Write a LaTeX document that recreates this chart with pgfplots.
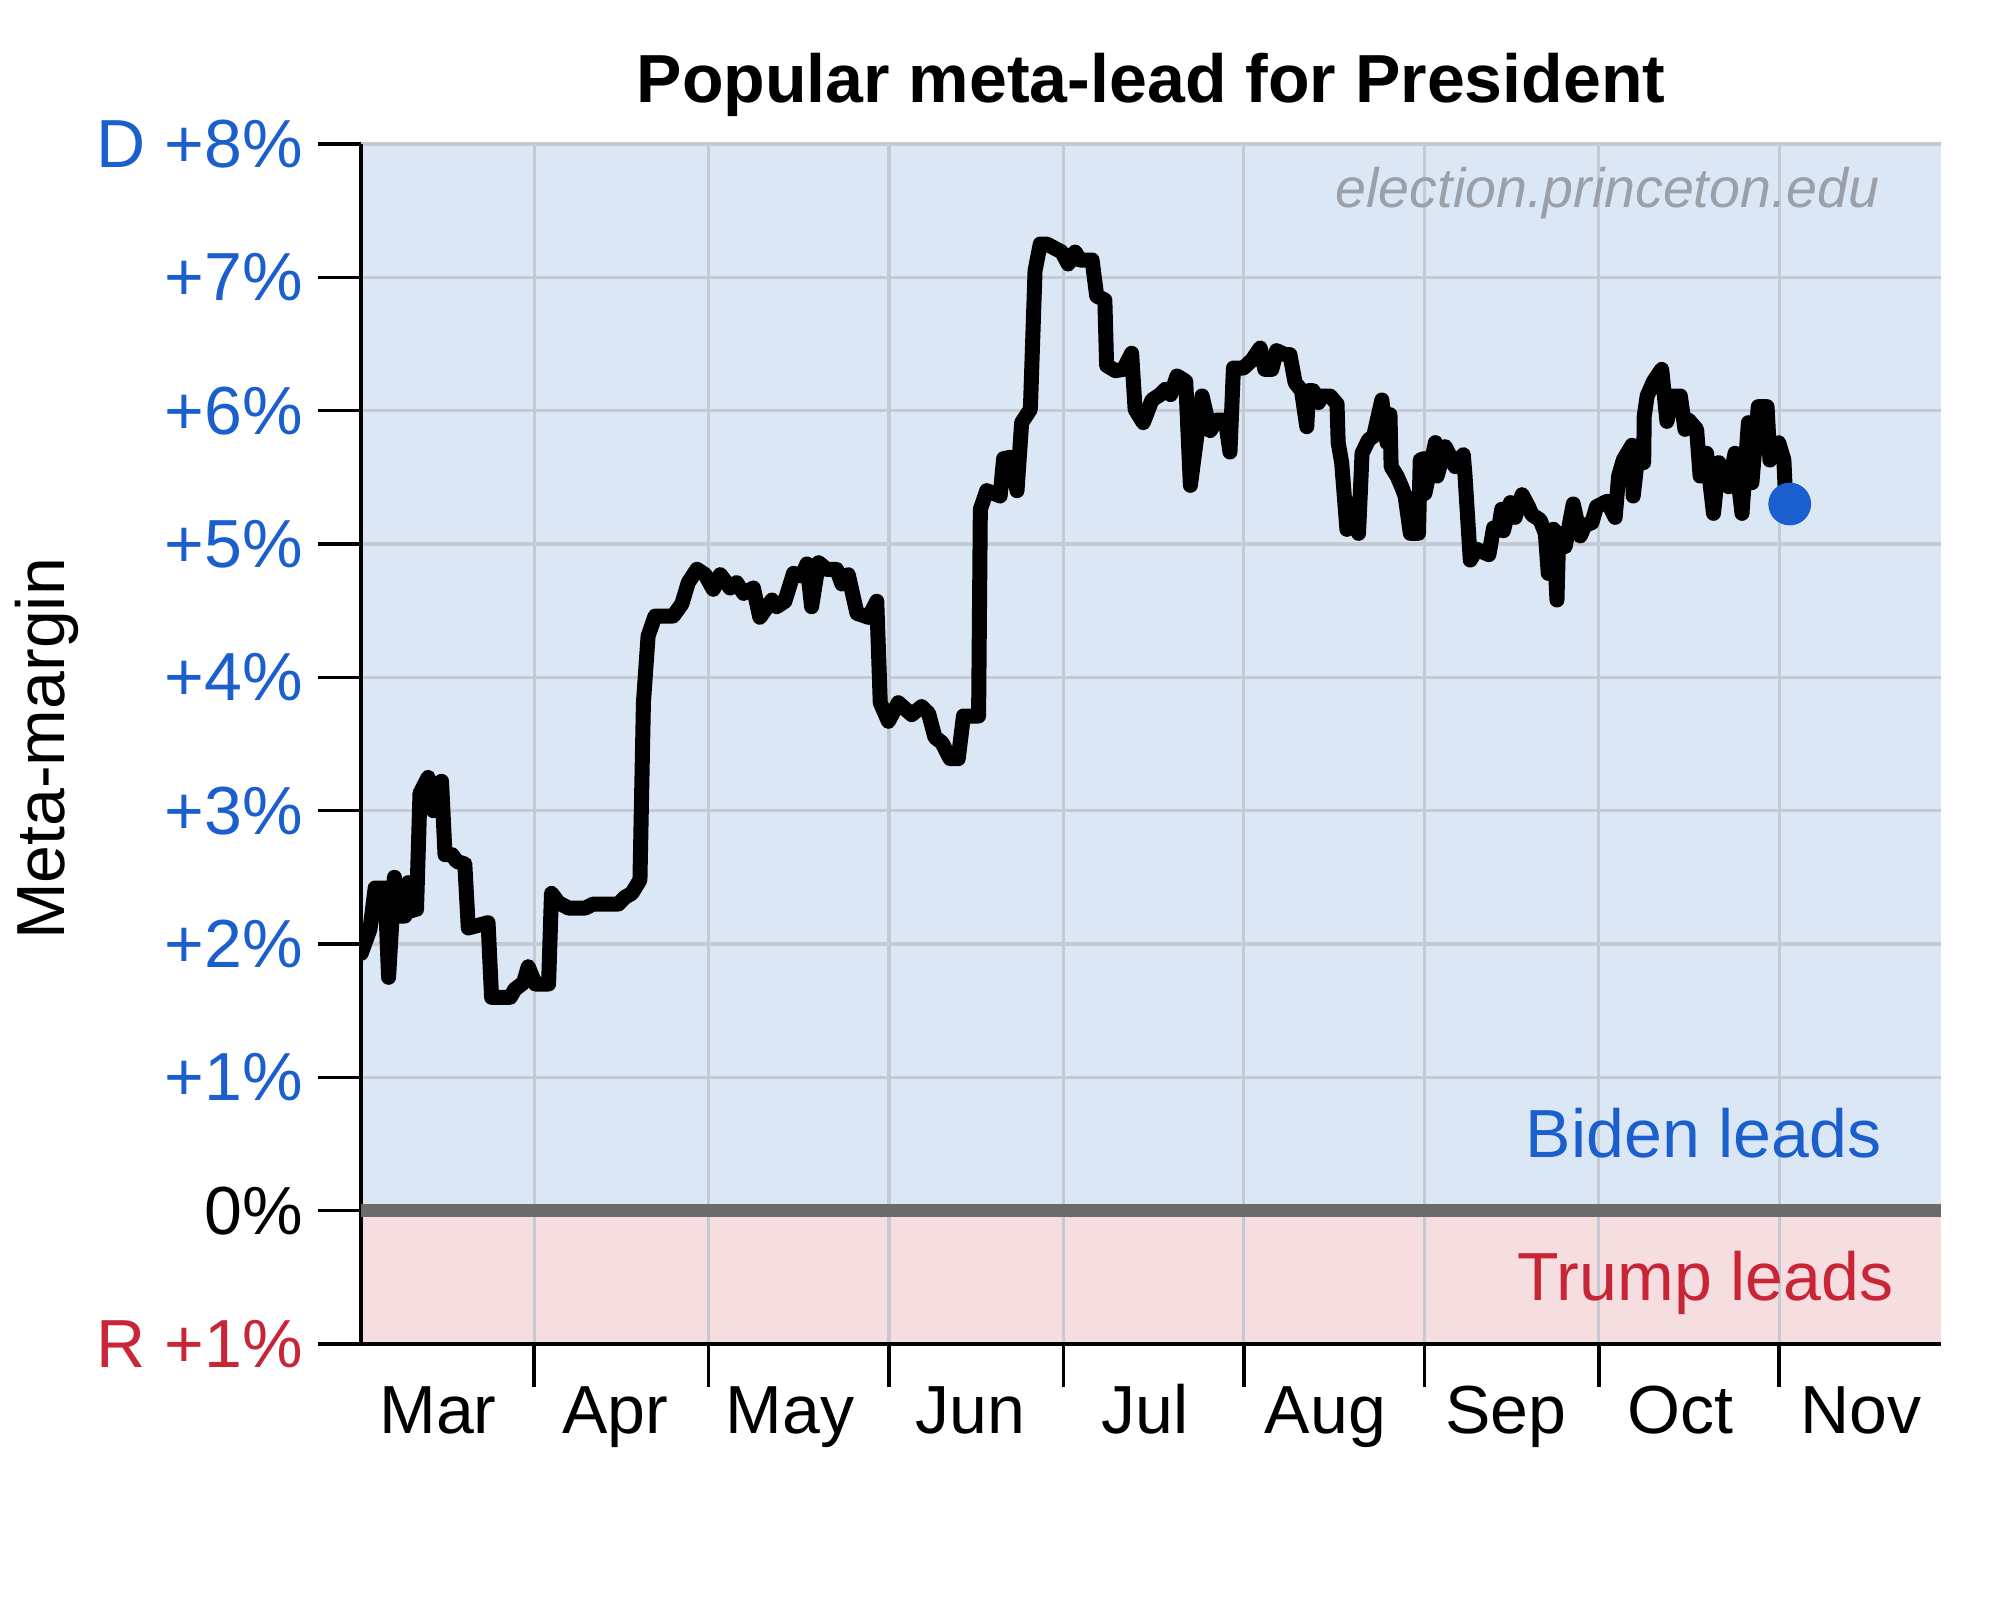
\documentclass[border=0pt]{standalone}
\usepackage{fontspec}
\setmainfont{Liberation Sans}
\usepackage{pgfplots}
\pgfplotsset{compat=1.18}
\definecolor{dblue}{HTML}{1A5FCD}
\definecolor{rred}{HTML}{C82537}
\definecolor{bgblue}{HTML}{DCE7F6}
\definecolor{bgred}{HTML}{F5DDE0}
\definecolor{zline}{HTML}{6B6B6B}
\definecolor{gridc}{HTML}{C5CAD2}
\definecolor{wm}{HTML}{9BA0A8}
\newcommand{\fs}{\fontsize{24.5}{29}\selectfont}
\begin{document}
\begin{tikzpicture}
\begin{axis}[
  name=ax, set layers,
  scale only axis, width=568.8pt, height=432pt,
  xmin=62.26, xmax=333.8, ymin=-1, ymax=8,
  axis x line*=bottom, axis y line*=left,
  axis line style={-, line width=1.3pt, black},
  tick align=outside, major tick length=15.5pt,
  tick style={line width=1.3pt, black},
  xtick={92,122,153,183,214,245,275,306}, xticklabels={},
  extra x ticks={75.5,106,136,167,197,228,259,289,320},
  extra x tick labels={Mar,Apr,May,Jun,Jul,Aug,Sep,Oct,Nov},
  extra x tick style={grid=none, major tick length=0pt},
  ytick={-1,0,1,2,3,4,5,6,7,8},
  yticklabels={{\color{rred}R +1\%},0\%,{\color{dblue}+1\%},{\color{dblue}+2\%},{\color{dblue}+3\%},{\color{dblue}+4\%},{\color{dblue}+5\%},{\color{dblue}+6\%},{\color{dblue}+7\%},{\color{dblue}D +8\%}},
  grid=major, grid style={gridc, line width=1.1pt},
  ticklabel style={font=\fs, inner sep=0pt},
  yticklabel style={xshift=-5.2pt},
  xticklabel style={yshift=-14.4pt, text height=17.6pt, text depth=5.2pt},
]
\addplot[on layer=axis background, fill=bgblue, draw=none] coordinates {(62.26,0) (333.8,0) (333.8,8) (62.26,8)} -- cycle;
\addplot[on layer=axis background, fill=bgred, draw=none] coordinates {(62.26,-1) (333.8,-1) (333.8,0) (62.26,0)} -- cycle;
\addplot[zline, line width=4.9pt] coordinates {(62.26,0) (333.8,0)};
\addplot[black, line width=5.4pt, line join=round, line cap=round] table {
62.3 1.93
63.8 2.11
64.7 2.42
66.4 2.42
67.0 1.75
68.0 2.50
68.6 2.21
69.8 2.21
70.4 2.46
71.0 2.25
71.4 2.45
71.8 2.26
72.4 3.13
73.8 3.25
74.7 3.00
76.1 3.22
76.7 2.67
77.9 2.67
78.7 2.62
80.1 2.60
80.7 2.12
84.1 2.16
84.7 1.60
87.9 1.60
88.7 1.66
90.2 1.71
91.0 1.83
92.2 1.70
94.5 1.70
95.0 2.38
96.2 2.31
97.9 2.27
100.8 2.27
102.2 2.30
106.5 2.30
107.6 2.35
108.8 2.38
110.2 2.48
110.8 3.81
111.6 4.31
112.8 4.46
115.9 4.46
117.4 4.55
118.5 4.71
120.0 4.81
121.4 4.77
122.8 4.66
124.0 4.77
125.7 4.67
126.8 4.71
128.0 4.63
129.7 4.67
130.8 4.45
132.9 4.58
133.7 4.53
135.1 4.57
136.6 4.78
138.0 4.76
138.9 4.85
139.7 4.53
140.9 4.86
142.3 4.81
144.0 4.81
144.9 4.70
146.0 4.77
147.5 4.48
149.5 4.45
150.9 4.57
151.5 3.81
152.9 3.67
154.6 3.81
156.9 3.72
158.6 3.78
159.8 3.73
160.9 3.55
162.1 3.51
163.5 3.39
164.9 3.39
165.8 3.71
168.4 3.71
168.7 5.26
169.8 5.40
172.1 5.36
172.7 5.64
173.8 5.65
175.0 5.40
175.8 5.91
177.3 6.01
178.1 7.05
179.0 7.25
180.1 7.25
182.7 7.19
183.8 7.10
185.0 7.19
185.8 7.13
187.9 7.13
188.7 6.86
190.1 6.83
190.4 6.34
191.9 6.30
193.3 6.31
194.7 6.43
195.3 6.01
196.7 5.91
198.2 6.08
199.6 6.12
200.5 6.16
201.4 6.12
202.5 6.26
204.0 6.22
204.8 5.44
206.8 6.11
208.2 5.85
209.3 5.93
210.8 5.93
211.6 5.69
212.2 6.32
213.9 6.32
215.4 6.38
216.8 6.47
217.6 6.31
218.8 6.31
219.6 6.45
221.1 6.42
221.9 6.42
222.8 6.21
223.9 6.15
224.8 5.88
225.1 6.15
225.9 6.15
226.8 6.06
227.4 6.11
228.8 6.11
230.0 6.05
230.2 5.76
230.8 5.61
231.7 5.11
232.5 5.30
233.7 5.08
234.3 5.68
235.4 5.78
236.3 5.81
237.7 6.08
238.6 5.76
239.1 5.97
239.3 5.58
240.3 5.51
241.1 5.43
241.7 5.36
242.6 5.08
244.0 5.08
244.3 5.63
244.9 5.64
245.1 5.38
246.9 5.76
247.2 5.51
248.6 5.73
249.4 5.66
250.3 5.58
251.7 5.67
252.0 5.51
252.9 4.88
254.0 4.96
256.1 4.92
256.9 5.12
257.8 5.12
258.3 5.26
258.6 5.10
259.8 5.31
260.6 5.20
261.8 5.37
262.9 5.28
263.5 5.22
264.9 5.18
265.8 5.08
266.3 4.78
267.2 5.11
267.8 4.58
268.1 5.08
269.2 4.98
270.6 5.30
271.8 5.06
272.6 5.14
273.8 5.16
274.6 5.28
276.4 5.32
277.8 5.20
278.4 5.51
279.2 5.63
280.7 5.74
280.9 5.36
281.6 5.63
282.7 5.61
282.8 5.96
283.3 6.11
284.4 6.22
285.8 6.31
286.7 5.92
287.6 6.11
289.0 6.11
289.8 5.86
290.4 5.93
291.8 5.86
292.4 5.51
293.5 5.68
294.7 5.23
295.6 5.61
297.3 5.43
298.4 5.68
299.6 5.23
300.7 5.91
301.3 5.46
302.4 6.03
303.9 6.03
304.4 5.63
305.9 5.76
306.8 5.63
307.0 5.43
307.8 5.30
};
\addplot[only marks, mark=*, mark size=7.5pt, color=dblue, mark options={draw=dblue, fill=dblue}] coordinates {(307.8,5.30)};
\end{axis}
\begin{scope}[shift={(ax.south west)}]
\node[anchor=base, inner sep=0pt, font=\bfseries\fs] at (284.4pt,447.1pt) {Popular meta-lead for President};
\node[anchor=base east, inner sep=0pt, font=\itshape\fontsize{20}{24}\selectfont, text=wm] at (546.8pt,409.3pt) {election.princeton.edu};
\node[anchor=base east, inner sep=0pt, font=\fs, text=dblue] at (547.6pt,67.3pt) {Biden leads};
\node[anchor=base east, inner sep=0pt, font=\fs, text=rred] at (551.9pt,15.5pt) {Trump leads};
\node[rotate=90, anchor=base, inner sep=0pt, font=\fs] at (-106.6pt,214.2pt) {Meta-margin};
\pgfresetboundingbox
\path[use as bounding box] (-129.96pt,-92.16pt) rectangle (590.04pt,483.84pt);
\end{scope}
\end{tikzpicture}
\end{document}
